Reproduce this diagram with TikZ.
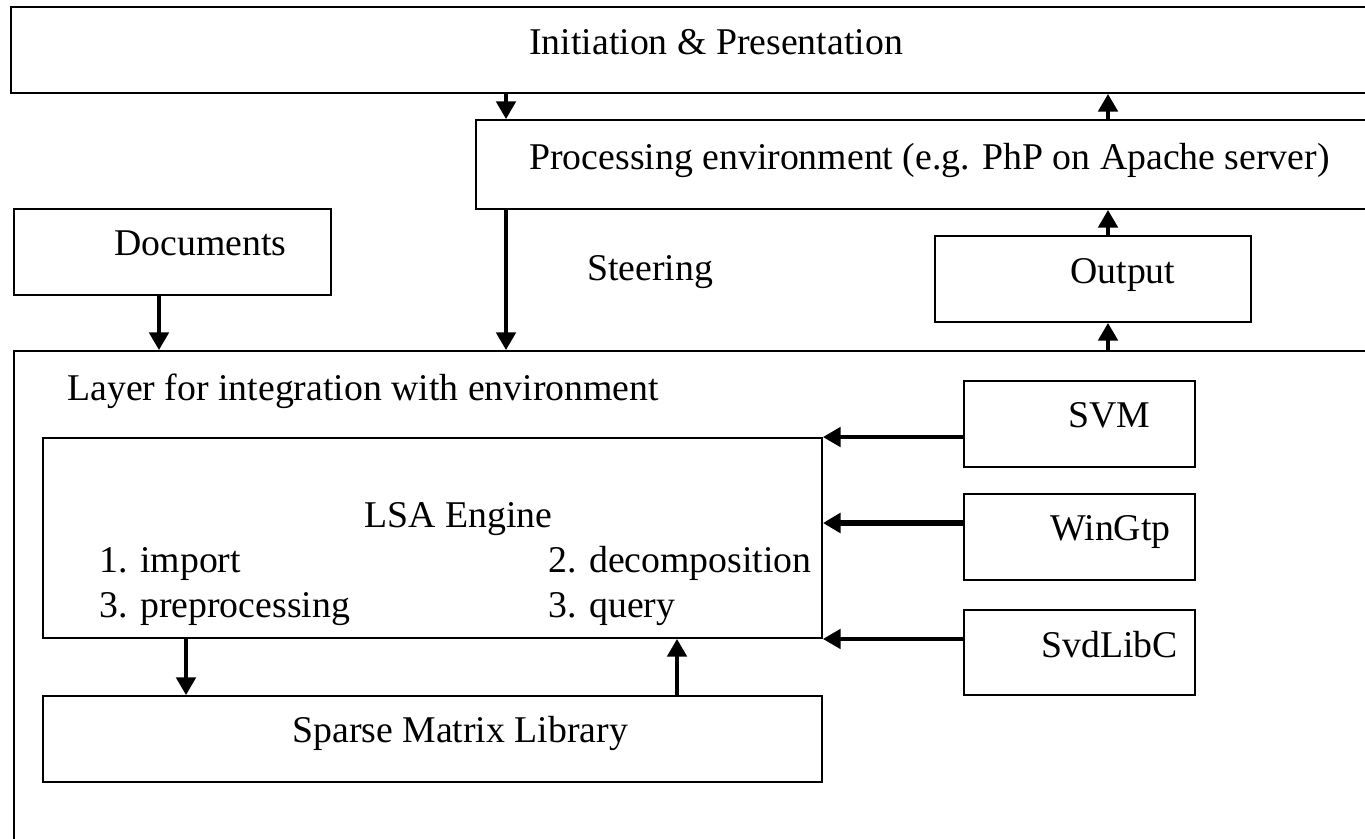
\documentclass[tikz,border=0pt]{standalone}
\usepackage{fontspec}
\setmainfont{Liberation Serif}
\usepackage{tikz}
\usetikzlibrary{arrows.meta}
\usetikzlibrary{fit}

\begin{document}
\begin{tikzpicture}[x=0.02cm,y=-0.02cm]
	\tikzstyle{blk}=[draw, line width=1.1pt, inner sep=0pt]
	\tikzstyle{txt}=[inner sep=0pt, anchor=base west, font=\fontsize{21.5}{26}\selectfont]
	\tikzstyle{arr}=[-{Triangle[length=10pt,width=11pt]}, line width=2.1pt]

	\useasboundingbox (0,0) rectangle (1365,838);
	\fill[white] (0,0) rectangle (1365,838);
	\clip (0,0) rectangle (1365,838);

	\node[blk, fit={(11,7) (1380,93)}] (I) {};
	\node[blk, fit={(476,120) (1380,209)}] (P) {};
	\node[blk, fit={(14,209) (331,295)}] (D) {};
	\node[blk, fit={(935,236) (1251,322)}] (O) {};
	\node[blk, fit={(14,351) (1380,860)}] (L) {};
	\node[blk, fit={(43,438) (822,638)}] (E) {};
	\node[blk, fit={(43,696) (822,782)}] (S) {};
	\node[blk, fit={(964,381) (1195,467)}] (V) {};
	\node[blk, fit={(964,494) (1195,580)}] (W) {};
	\node[blk, fit={(964,610) (1195,695)}] (C) {};

	\node[txt] (It) at (529,55) {Initiation \& Presentation};
	\node[txt] (Pt) at (529,169) {Processing environment (e.g. PhP on Apache server)};
	\node[txt] (Dt) at (114,255) {Documents};
	\node[txt] (Gt) at (587,280) {Steering};
	\node[txt] (Ot) at (1070,283) {Output};
	\node[txt] (Lt) at (67,400) {Layer for integration with environment};
	\node[txt] (Et) at (364,527) {LSA Engine};
	\node[txt] (E1) at (99,572) {1. import};
	\node[txt] (E3) at (99,617) {3. preprocessing};
	\node[txt] (E2) at (548,572) {2. decomposition};
	\node[txt] (E4) at (548,617) {3. query};
	\node[txt] (St) at (292,742) {Sparse Matrix Library};
	\node[txt] (Vt) at (1068,427) {SVM};
	\node[txt] (Wt) at (1050,540) {WinGtp};
	\node[txt] (Ct) at (1041,657) {SvdLibC};

	\coordinate (a) at (506,0);
	\coordinate (b) at (1108,0);
	\coordinate (c) at (186,0);
	\coordinate (d) at (677,0);
	\coordinate (e) at (159,0);
	\coordinate (w) at (0,523);

	\draw[arr] (a |- I.south) -- (a |- P.north);
	\draw[arr] (b |- P.north) -- (b |- I.south);
	\draw[arr] (a |- P.south) -- (a |- L.north);
	\draw[arr] (e |- D.south) -- (e |- L.north);
	\draw[arr] (b |- O.north) -- (b |- P.south);
	\draw[arr] (b |- L.north) -- (b |- O.south);
	\draw[arr] (E.north east -| V.west) -- (E.north east);
	\draw[arr, line width=3.2pt] (w -| W.west) -- (w -| E.east);
	\draw[arr] (E.south east -| C.west) -- (E.south east);
	\draw[arr] (c |- E.south) -- (c |- S.north);
	\draw[arr] (d |- S.north) -- (d |- E.south);
\end{tikzpicture}
\end{document}
